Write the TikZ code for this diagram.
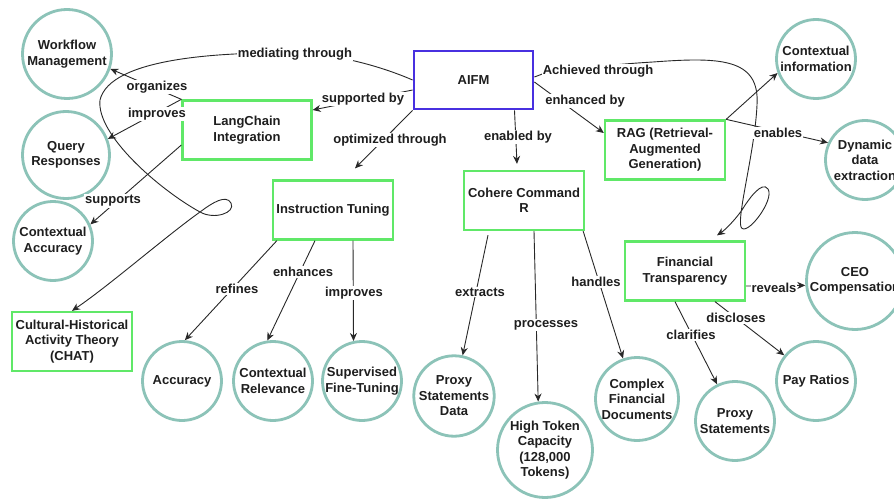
\documentclass[tikz,border=0pt]{standalone}
\usepackage{fontspec}
\setmainfont{Liberation Sans}
\usetikzlibrary{arrows.meta}
\definecolor{circcol}{RGB}{140,195,184}
\definecolor{grncol}{RGB}{96,232,104}
\definecolor{blucol}{RGB}{72,48,224}
\definecolor{edgecol}{RGB}{40,40,40}
\definecolor{txtcol}{RGB}{30,30,30}
\begin{document}
\begin{tikzpicture}[x=1pt,y=-1pt,
  every node/.style={font=\fontsize{13}{15.5}\selectfont\bfseries, text=txtcol, align=center},
  cnode/.style={circle, draw=circcol, line width=2.8pt, inner sep=0pt, minimum size=#1},
  gbox/.style={rectangle, draw=grncol, line width=2.3pt, inner sep=0pt, minimum width=#1, minimum height=59pt},
  gbox/.default=120pt,
  bbox/.style={rectangle, draw=blucol, line width=2.8pt, inner sep=0pt, minimum width=119pt, minimum height=58pt},
  conn/.style={draw=edgecol, line width=0.9pt, -{Stealth[length=8pt,width=7pt]}},
  lab/.style={fill=white, inner sep=1pt}
]
\clip (0,0) rectangle (894,500);
\fill[white] (0,0) rectangle (894,500);

% boxes
\node[bbox] (aifm) at (473.5,80) {AIFM};
\node[gbox=129pt] (lang) at (247,130) {LangChain\\Integration};
\node[gbox] (inst) at (333,210) {Instruction Tuning};
\node[gbox] (chat) at (72,341.5) {Cultural-Historical\\Activity Theory\\(CHAT)};
\node[gbox] (cohere) at (524,200.5) {Cohere Command\\R};
\node[gbox] (rag) at (665,150) {RAG (Retrieval-\\Augmented\\Generation)};
\node[gbox] (ft) at (685,271) {Financial\\Transparency};

% circles
\node[cnode=89pt] (wf) at (67,54) {Workflow\\Management};
\node[cnode=87pt] (qr) at (66,155) {Query\\Responses};
\node[cnode=79pt] (ca) at (53,241) {Contextual\\Accuracy};
\node[cnode=79pt] (acc) at (182,381) {Accuracy};
\node[cnode=79pt] (crel) at (273,381) {Contextual\\Relevance};
\node[cnode=79pt] (sft) at (362,381) {Supervised\\Fine-Tuning};
\node[cnode=79pt] (psd) at (454,396) {Proxy\\Statements\\Data};
\node[cnode=95pt] (htc) at (545,450) {High Token\\Capacity\\(128,000\\Tokens)};
\node[cnode=83pt] (cfd) at (637,399) {Complex\\Financial\\Documents};
\node[cnode=79pt] (ps) at (735,421) {Proxy\\Statements};
\node[cnode=79pt] (pr) at (816,381) {Pay Ratios};
\node[cnode=97pt] (ceo) at (855,281) {CEO\\Compensation};
\node[cnode=79pt] (ci) at (816,59) {Contextual\\information};
\node[cnode=79pt] (dde) at (865,160) {Dynamic\\data\\extraction};

% AIFM edges
\draw[conn] (aifm.west) .. controls (385,68) and (340,54) .. (295,53)
  .. controls (220,52) and (110,58) .. (100,100)
  .. controls (96,135) and (160,190) .. (200,212)
  .. controls (214,220) and (236,213) .. (231,203)
  .. controls (226,194) and (212,203) .. (200,212)
  .. controls (165,237) and (110,285) .. (chat.north);
\node[lab] (l1) at (295,54) {mediating through};

\draw[conn] ([yshift=3pt]aifm.east) -- (545,73) .. controls (600,66) and (620,64) .. (653,62)
  .. controls (720,57) and (760,58) .. (757,105)
  .. controls (755,150) and (737,215) .. (741,227)
  .. controls (746,238) and (775,200) .. (768,189)
  .. controls (762,180) and (748,200) .. (742,210)
  .. controls (735,220) and (725,230) .. ([xshift=32pt,yshift=5pt]ft.north);
\node[lab] (l2) at (598,71) {Achieved through};

\draw[conn] ([yshift=-10pt]aifm.west) -- ([yshift=20pt]lang.east);
\node[lab] (l3) at (363,99) {supported by};
\draw[conn] (aifm.south west) -- ([xshift=22pt,yshift=11pt]inst.north);
\node[lab] (l4) at (390,140) {optimized through};
\draw[conn] ([xshift=41pt]aifm.south) -- ([xshift=-7pt,yshift=6pt]cohere.north);
\node[lab] (l5) at (518,137) {enabled by};
\draw[conn] ([yshift=-2pt]aifm.east) -- ([yshift=17pt]rag.west);
\node[lab] (l6) at (585,101) {enhanced by};

% RAG edges
\draw[conn] (rag.north east) -- (ci.200);
\draw[conn] (rag.north east) -- (dde.155);
\node[lab] (l7) at (778,133) {enables};

% LangChain edges
\draw[conn] (lang.north west) -- (wf.341);
\node[lab] (l8) at (157,87) {organizes};
\draw[conn] (lang.north west) -- (qr.21);
\node[lab] (l9) at (157,114) {improves};
\draw[conn] ([yshift=-15pt]lang.west) -- (ca.24);
\node[lab] (l10) at (113,201) {supports};

% Instruction Tuning edges
\draw[conn] ([xshift=5pt]inst.south west) -- (acc.86);
\node[lab] (l11) at (237,289) {refines};
\draw[conn] ([xshift=-18pt]inst.south) -- (crel.98);
\node[lab] (l12) at (303,272) {enhances};
\draw[conn] ([xshift=20pt]inst.south) -- (sft.102);
\node[lab] (l13) at (354,293) {improves};

% Cohere edges
\draw[conn] ([xshift=-36pt,yshift=-4pt]cohere.south) -- (psd.78);
\node[lab] (l14) at (480,292) {extracts};
\draw[conn] ([xshift=10pt]cohere.south) -- (htc.98);
\node[lab] (l15) at (546,325) {processes};
\draw[conn] ([xshift=-2pt]cohere.south east) -- (cfd.109);
\node[lab] (l16) at (596,282) {handles};

% Financial Transparency edges
\draw[conn] ([yshift=-15pt]ft.east) -- (ceo.185);
\node[lab] (l17) at (774,288) {reveals};
\draw[conn] ([xshift=30pt]ft.south) -- (pr.141);
\node[lab] (l18) at (736,318) {discloses};
\draw[conn] ([xshift=-10pt]ft.south) -- (ps.116);
\node[lab] (l19) at (691,335) {clarifies};
\end{tikzpicture}
\end{document}
